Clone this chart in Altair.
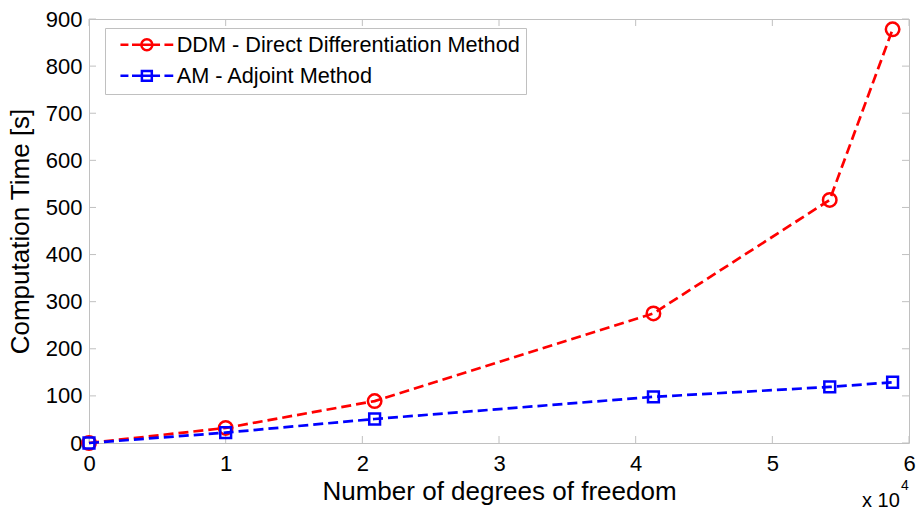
import altair as alt
import pandas as pd

# ---- data ----
dof = [0, 10000, 20900, 41300, 54200, 58800]
ddm_time = [0, 32, 89, 275, 516, 878]
am_time = [0, 22, 51, 98, 119, 129]
series_names = ["DDM - Direct Differentiation Method", "AM - Adjoint Method"]
x_ticks = [0, 10000, 20000, 30000, 40000, 50000, 60000]
y_ticks = [0, 100, 200, 300, 400, 500, 600, 700, 800, 900]
x_title = "Number of degrees of freedom"
y_title = "Computation Time [s]"
exponent_base = ["x 10"]
exponent_power = ["4"]

# ---- styling ----
W, H = 820, 424
RED, BLUE = "#ff0000", "#0000ff"
GREY = "#c0c0c0"
FONT = "Liberation Sans"
TICK = 7

df = pd.concat([
    pd.DataFrame({"dof": dof, "time": ddm_time, "series": series_names[0]}),
    pd.DataFrame({"dof": dof, "time": am_time, "series": series_names[1]}),
], ignore_index=True)

x_enc = alt.X("dof:Q", scale=alt.Scale(domain=[0, 60000], nice=False, zero=False),
              axis=alt.Axis(values=x_ticks, labelExpr="datum.value / 10000",
                            labelFlush=False, labelOverlap=False,
                            title=x_title, labelPadding=10, titlePadding=4))
y_enc = alt.Y("time:Q", scale=alt.Scale(domain=[0, 900], nice=False),
              axis=alt.Axis(values=y_ticks, title=y_title, labelFlush=False,
                            labelOverlap=False, labelPadding=7, titlePadding=12))

base = alt.Chart(df)
dash = [10, 5]

ddm = base.transform_filter(alt.datum.series == series_names[0])
am = base.transform_filter(alt.datum.series == series_names[1])

ddm_line = ddm.mark_line(color=RED, strokeWidth=2.7, strokeDash=dash).encode(x=x_enc, y=y_enc)
ddm_pts = ddm.mark_point(shape="circle", filled=False, color=RED, size=182,
                         strokeWidth=2.5, opacity=1).encode(x=x_enc, y=y_enc)
am_line = am.mark_line(color=BLUE, strokeWidth=2.7, strokeDash=dash).encode(x=x_enc, y=y_enc)
am_pts = am.mark_point(shape="square", filled=False, color=BLUE, size=117,
                       strokeWidth=2.5, opacity=1).encode(x=x_enc, y=y_enc)

# legend symbols: dashed line with marker (custom paths)
ddm_sym = ("M-4.8,0H-3.35M-2.7,0H-1M-1,0A1,1,0,1,1,1,0A1,1,0,1,1,-1,0"
           "M-1,0H1M1,0H2.4M3.2,0H4.8")
am_sym = ("M-4.8,0H-3.35M-2.7,0H-0.9M-0.9,-0.9H0.9V0.9H-0.9Z"
          "M-0.9,0H0.9M0.9,0H2.4M3.2,0H4.8")

legend_layer = base.mark_point(filled=False, opacity=0, strokeWidth=2.5).encode(
    x=x_enc, y=y_enc,
    color=alt.Color("series:N", scale=alt.Scale(domain=series_names, range=[RED, BLUE]),
                    legend=alt.Legend(title=None)),
    shape=alt.Shape("series:N", scale=alt.Scale(domain=series_names, range=[ddm_sym, am_sym]),
                    legend=alt.Legend(title=None)),
)

# inward ticks on all four sides of the box
xt = pd.DataFrame({"dof": x_ticks})
yt = pd.DataFrame({"time": y_ticks})
tick_style = dict(color=GREY, strokeWidth=1)
xt_bottom = alt.Chart(xt).mark_rule(**tick_style).encode(
    x=x_enc, y=alt.value(H - TICK), y2=alt.value(H))
xt_top = alt.Chart(xt).mark_rule(**tick_style).encode(
    x=x_enc, y=alt.value(0), y2=alt.value(TICK))
yt_left = alt.Chart(yt).mark_rule(**tick_style).encode(
    y=y_enc, x=alt.value(0), x2=alt.value(TICK))
yt_right = alt.Chart(yt).mark_rule(**tick_style).encode(
    y=y_enc, x=alt.value(W - TICK), x2=alt.value(W))

exp_base = alt.Chart(pd.DataFrame({"t": exponent_base})).mark_text(
    font=FONT, fontSize=20, align="left", baseline="alphabetic", color="black"
).encode(x=alt.value(773), y=alt.value(488), text="t:N")
exp_pow = alt.Chart(pd.DataFrame({"t": exponent_power})).mark_text(
    font=FONT, fontSize=14, align="left", baseline="alphabetic", color="black"
).encode(x=alt.value(812), y=alt.value(471), text="t:N")

chart = alt.layer(
    xt_bottom, xt_top, yt_left, yt_right,
    ddm_line, ddm_pts, am_line, am_pts, legend_layer,
    exp_base, exp_pow
).properties(
    width=W, height=H,
    autosize=alt.AutoSizeParams(type="none"),
    padding={"left": 89, "top": 19, "right": 7, "bottom": 67},
).configure_view(
    stroke=GREY, strokeWidth=1
).configure_axis(
    domain=False, ticks=False, tickSize=0, grid=False,
    labelFont=FONT, labelFontSize=22, labelColor="black",
    titleFont=FONT, titleFontSize=26, titleColor="black", titleFontWeight="normal",
).configure_legend(
    orient="none", legendX=16, legendY=9,
    padding=6, strokeColor=GREY, fillColor="white", cornerRadius=0,
    labelFont=FONT, labelFontSize=21.7, labelColor="black", labelLimit=600,
    symbolSize=121, symbolStrokeWidth=2.5, symbolOpacity=1,
    symbolOffset=25, labelOffset=19, rowPadding=8,
)

chart.save("out.html", embed_options={"renderer": "svg", "actions": False})
